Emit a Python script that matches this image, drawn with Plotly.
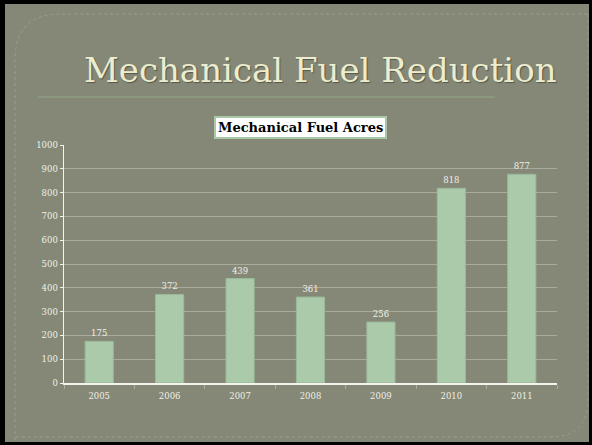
import plotly.graph_objects as go

years = ["2005", "2006", "2007", "2008", "2009", "2010", "2011"]
acres = [175, 372, 439, 361, 256, 818, 877]
y_ticks = [0, 100, 200, 300, 400, 500, 600, 700, 800, 900, 1000]

W, H = 592, 445
L, R, T, B = 64, 35, 145, 62
PW, PH = W - L - R, H - T - B

def px(x):
    return (x - L) / PW

def py(y):
    return (H - B - y) / PH

BG = "#858877"
BAR = "#AACAAA"
TXT = "#F0F0E6"

fig = go.Figure()
fig.add_trace(go.Bar(
    x=years, y=acres, width=0.4,
    marker=dict(color=BAR, line=dict(color="#9BB89B", width=1)),
    text=[str(v) for v in acres], textposition="outside",
    textfont=dict(family="DejaVu Serif", size=8.5, color=TXT),
    cliponaxis=False, hoverinfo="skip",
))

shapes = []
# dotted rounded panel border
path = (f"M {px(15)},{py(440)} L {px(15)},{py(60)} "
        f"Q {px(15)},{py(14)} {px(60)},{py(14)} L {px(588)},{py(14)} "
        f"M {px(588)},{py(14)} L {px(588)},{py(400)} "
        f"Q {px(588)},{py(437)} {px(550)},{py(437)} L {px(15)},{py(437)}")
shapes.append(dict(type="path", xref="paper", yref="paper", path=path,
                   line=dict(color="#9C9E8E", width=1, dash="dot")))
# line under title
shapes.append(dict(type="line", xref="paper", yref="paper",
                   x0=px(38), x1=px(495), y0=py(97), y1=py(97),
                   line=dict(color="#8FA88A", width=1)))
# black frame
for (x0, y0, x1, y1) in [(0, 0, 5, 445), (0, 0, 592, 4), (589, 0, 592, 445), (0, 442, 592, 445)]:
    shapes.append(dict(type="rect", xref="paper", yref="paper",
                       x0=px(x0), x1=px(x1), y0=py(y0), y1=py(y1),
                       fillcolor="#000000", line=dict(width=0), layer="above"))

annotations = [
    dict(text="Mechanical Fuel Reduction", xref="paper", yref="paper",
         x=px(320), y=py(70), showarrow=False, xanchor="center", yanchor="middle",
         font=dict(family="DejaVu Serif", size=34, color="#ECECCF",
                   shadow="1px 1px 1px #55574A")),
    dict(text="<b>Mechanical Fuel Acres</b>", xref="paper", yref="paper",
         x=px(300), y=py(127), showarrow=False, xanchor="center", yanchor="middle",
         font=dict(family="DejaVu Serif", size=13, color="#000000"),
         bgcolor="#FFFFFF", bordercolor="#A8C8A8", borderwidth=2, borderpad=2),
]

fig.update_layout(
    width=W, height=H,
    margin=dict(l=L, r=R, t=T, b=B),
    paper_bgcolor=BG, plot_bgcolor=BG,
    showlegend=False,
    shapes=shapes, annotations=annotations,
    bargap=0.6,
)
fig.update_yaxes(range=[0, 1000], tickvals=y_ticks, ticktext=[str(v) for v in y_ticks],
                 showgrid=True, gridcolor="#A9AB9C", gridwidth=1,
                 showline=True, linecolor="#F4F4EC", linewidth=1.5,
                 ticks="outside", ticklen=3, tickcolor="#F4F4EC",
                 tickfont=dict(family="DejaVu Serif", size=8.5, color=TXT),
                 zeroline=False, fixedrange=True)
fig.update_xaxes(type="category", showline=True, linecolor="#F4F4EC", linewidth=1.5,
                 ticks="outside", tickson="boundaries", ticklen=4, tickcolor="#A9AB9C",
                 ticklabelstandoff=4,
                 tickfont=dict(family="DejaVu Serif", size=8.5, color=TXT),
                 showgrid=False, fixedrange=True)

fig.write_html("out.html", config={"displayModeBar": False, "staticPlot": True},
               post_script="document.body.style.margin='0';document.body.style.padding='0';document.body.style.overflow='hidden';")
